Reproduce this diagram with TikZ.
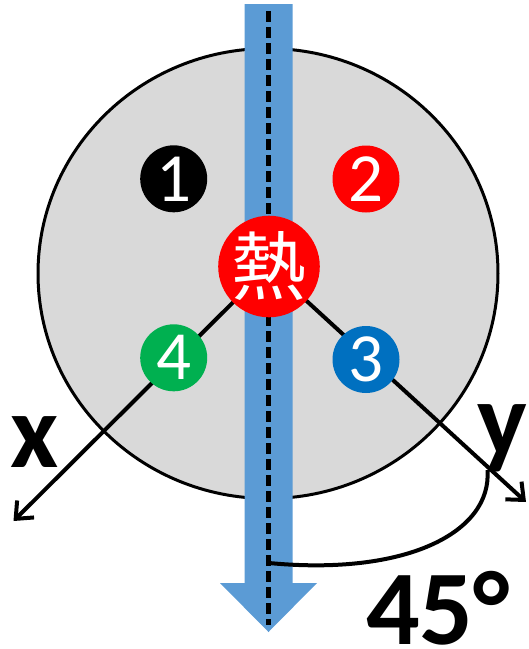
\documentclass[tikz,border=0pt]{standalone}
\usepackage{fontspec}
\setmainfont{Carlito}
\newfontfamily\cjk{Noto Sans CJK JP}
\usetikzlibrary{arrows.meta}
\definecolor{diskgray}{HTML}{D9D9D9}
\definecolor{flowblue}{HTML}{5B9BD5}
\definecolor{pred}{HTML}{FF0000}
\definecolor{pgreen}{HTML}{00B050}
\definecolor{pblue}{HTML}{0070C0}
\tikzset{
  numc/.style={circle, minimum size=67pt, inner sep=0pt, text=white, font=\fontsize{69}{69}\selectfont},
  axisline/.style={line width=4pt, -{Straight Barb[length=14pt,width=24pt,line width=4pt]}},
  axlabel/.style={font=\fontsize{105}{105}\selectfont\bfseries, anchor=base, inner sep=0pt},
}
\begin{document}
\begin{tikzpicture}[x=1pt,y=-1pt]
\useasboundingbox (0,0) rectangle (529,649);
% disk
\draw[line width=3pt, fill=diskgray] (268,273.5) ellipse [x radius=230, y radius=225];
% blue flow arrow
\coordinate (a1) at (244.5,4);
\coordinate (a2) at (292.5,4);
\coordinate (a3) at (292.5,583);
\coordinate (a4) at (317,583);
\coordinate (tip) at (268.5,632);
\coordinate (a6) at (220,583);
\coordinate (a7) at (244.5,583);
\fill[flowblue] (a1) -- (a2) -- (a3) -- (a4) -- (tip) -- (a6) -- (a7) -- cycle;
% dashed center line
\coordinate (dtop) at (268.5,11);
\coordinate (dbot) at (268.5,625);
\draw[line width=4.5pt, dash pattern=on 11pt off 5pt] (dtop) -- (dbot);
% axes
\coordinate (heatc) at (269,266.5);
\coordinate (xend) at (13.5,521);
\coordinate (yend) at (526,502);
\draw[axisline] (heatc) -- (xend);
\draw[axisline] (heatc) -- (yend);
% numbered points
\node[numc, fill=black] (n1) at (173.7,178.8) {1};
\node[numc, fill=pred] (n2) at (366,179) {2};
\node[numc, fill=pblue] (n3) at (366,359.5) {3};
\node[numc, fill=pgreen] (n4) at (173.7,357.8) {4};
\node[circle, fill=pred, minimum size=100pt, inner sep=0pt, text=white, font=\cjk\fontsize{75}{75}\selectfont] (heat) at (heatc) {熱};
% labels
\node[axlabel] (xl) at (34.5,467) {x};
\node[axlabel] (yl) at (502,455) {y};
\node[axlabel, anchor=base west, font=\fontsize{106}{106}\selectfont\bfseries] (deg) at (366,644) {45°};
% angle arc
\coordinate (arcs) at (269,563);
\coordinate (arce) at (487.5,470);
\draw[line width=4pt] (arcs) .. controls (405,576) and (492,533) .. (arce);
\end{tikzpicture}
\end{document}
